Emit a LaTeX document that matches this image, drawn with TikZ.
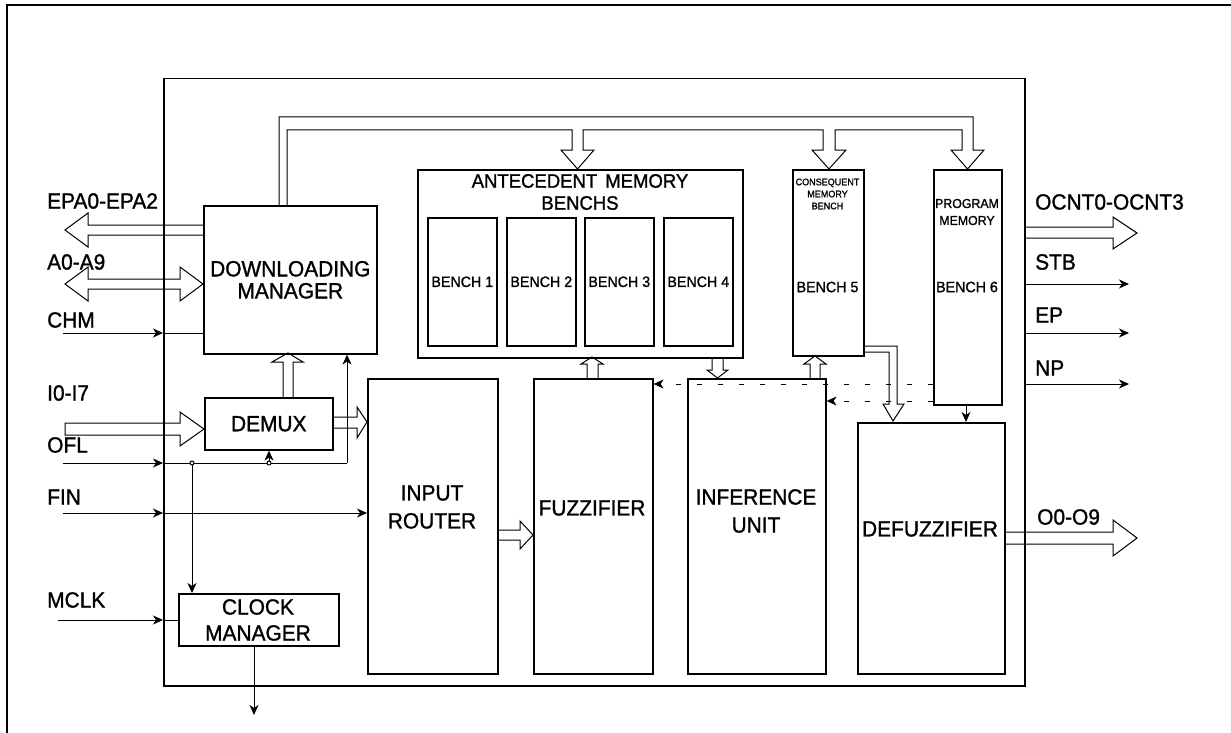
\documentclass[tikz,border=0pt]{standalone}
\usepackage{fontspec}
\setmainfont[FakeStretch=0.95,FakeBold=1.2]{Liberation Sans}
\usetikzlibrary{arrows.meta}
\begin{document}
\begin{tikzpicture}[x=1pt,y=-1pt,
  box/.style={draw,line width=1.6pt,inner sep=0pt,anchor=north west,align=center},
  txt/.style={inner sep=0pt,align=center},
  lbl/.style={anchor=west,inner sep=0pt,font=\fontsize{22}{24}\selectfont},
  big/.style={font=\fontsize{22}{28}\selectfont},
  sig/.style={line width=1pt,-{Stealth[length=10pt,width=9pt,inset=3pt]}},
  wire/.style={line width=1pt},
  pipe/.style={line width=1pt,line join=miter},
  dsig/.style={line width=1pt,dash pattern=on 5pt off 16pt,-{Stealth[length=10pt,width=9pt,inset=3pt]}},
  dot/.style={circle,draw,line width=1pt,inner sep=0pt,minimum size=4pt,fill=white}
]
\useasboundingbox (0,0) rectangle (1231,733);
\fill[white] (0,0) rectangle (1231,733);
% frames
\draw[line width=1.5pt] (7,733) -- (7,5) -- (1231,5);
\node[box,line width=1.5pt,minimum width=861pt,minimum height=607pt] (chip) at (163,78) {};

% boxes
\node[box,big,minimum width=173pt,minimum height=148pt] (dm) at (203,205) {DOWNLOADING\\[-6pt]MANAGER};
\node[box,big,minimum width=128pt,minimum height=52pt] (demux) at (204,397) {DEMUX};
\node[box,minimum width=160pt,minimum height=52pt] (cm) at (178,593) {};
\node[txt,big] (cmt) at (258,620) {CLOCK\\[-2pt]MANAGER};
\node[box,minimum width=325pt,minimum height=188pt] (ant) at (417,169) {};
\node[txt,font=\fontsize{19.5}{22}\selectfont] (antt) at (580,192) {ANTECEDENT\hspace{8pt}MEMORY\\BENCHS};
\foreach \i/\x in {1/427,2/506,3/584,4/663}{
  \node[box,minimum width=69pt,minimum height=128pt,font=\fontsize{15}{17}\selectfont] (b\i) at (\x,217) {BENCH \i};
}
\node[box,minimum width=71pt,minimum height=186pt] (cmb) at (792,169) {};
\node[txt,font=\fontsize{9.5}{12}\selectfont] (cmbt) at (827.5,194) {CONSEQUENT\\MEMORY\\BENCH};
\node[txt,font=\fontsize{15}{17}\selectfont] (cmbb) at (827.5,287) {BENCH 5};
\node[box,minimum width=68pt,minimum height=235pt] (pm) at (933,169) {};
\node[txt,font=\fontsize{13}{17}\selectfont] (pmt) at (967,212) {PROGRAM\\MEMORY};
\node[txt,font=\fontsize{15}{17}\selectfont] (pmb) at (967,287) {BENCH 6};
\node[box,minimum width=130pt,minimum height=295pt] (ir) at (367,378) {};
\node[txt,big] (irt) at (432,507) {INPUT\\ROUTER};
\node[box,minimum width=119pt,minimum height=295pt] (fz) at (533,378) {};
\node[txt,big] (fzt) at (592,508) {FUZZIFIER};
\node[box,minimum width=138pt,minimum height=295pt] (iu) at (687,378) {};
\node[txt,big] (iut) at (756,511) {INFERENCE\\UNIT};
\node[box,minimum width=147pt,minimum height=251pt] (df) at (857,422) {};
\node[txt,big] (dft) at (930,529) {DEFUZZIFIER};

% labels
\node[lbl] (lepa) at (47,201) {EPA0-EPA2};
\node[lbl] (la) at (47,262) {A0-A9};
\node[lbl] (lchm) at (47,320) {CHM};
\node[lbl] (li) at (47,393) {I0-I7};
\node[lbl] (lofl) at (47,445) {OFL};
\node[lbl] (lfin) at (47,497) {FIN};
\node[lbl] (lmclk) at (47,600) {MCLK};
\node[lbl] (locnt) at (1035,202) {OCNT0-OCNT3};
\node[lbl] (lstb) at (1035,262) {STB};
\node[lbl] (lep) at (1035,315) {EP};
\node[lbl] (lnp) at (1035,368) {NP};
\node[lbl] (lo) at (1037,517) {O0-O9};

% fat arrows
\draw[pipe] (dm.west |- 0,225) -- (88,225) -- (88,213) -- (65,230) -- (88,247) -- (88,235) -- (dm.west |- 0,235);
\draw[pipe] (65,284) -- (88,267) -- (88,279) -- (180,279) -- (180,267) -- (dm.west |- 0,284) -- (180,301) -- (180,289) -- (88,289) -- (88,301) -- cycle;
\draw[pipe] (65,423) -- (180,423) -- (180,412) -- (demux.west |- 0,429) -- (180,446) -- (180,435) -- (65,435) -- cycle;
\draw[pipe] (chip.east |- 0,227) -- (1113,227) -- (1113,217) -- (1137,233) -- (1113,249) -- (1113,238) -- (chip.east |- 0,238);
\draw[pipe] (df.east |- 0,532) -- (1113,532) -- (1113,520) -- (1137,538) -- (1113,556) -- (1113,544) -- (df.east |- 0,544);

% hollow internal arrows
\draw[pipe] (283,397) -- (283,362) -- (272,362) -- (288,353) -- (303,362) -- (293,362) -- (293,397);
\draw[pipe] (332,417) -- (357,417) -- (357,407) -- (ir.west |- 0,422) -- (357,438) -- (357,428) -- (332,428);
\draw[pipe] (497,530) -- (520,530) -- (520,521) -- (fz.west |- 0,535) -- (520,549) -- (520,540) -- (497,540);
\draw[pipe] (587,378) -- (587,364) -- (581,364) -- (592,357) -- (603,364) -- (598,364) -- (598,378);
\draw[pipe] (712,357) -- (712,370) -- (707,370) -- (717.5,378) -- (728,370) -- (723,370) -- (723,357);
\draw[pipe] (810,378) -- (810,364) -- (804,364) -- (815,356) -- (826,364) -- (820,364) -- (820,378);
% CMB -> defuzzifier bus
\draw[pipe] (863,346) -- (897,346) -- (897,404) -- (904,404) -- (893,421) -- (883,404) -- (889,404) -- (889,352) -- (863,352);

% top bus
\draw[pipe] (279,205) -- (279,117) -- (973,117) -- (973,150) -- (984,150) -- (967.5,169) -- (951,150) -- (962,150) -- (962,130) -- (835,130) -- (835,150) -- (846,150) -- (829,169) -- (812,150) -- (823,150) -- (823,130) -- (583,130) -- (583,150) -- (594,150) -- (577.5,169) -- (561,150) -- (572,150) -- (572,130) -- (287,130) -- (287,205);

% thin signals
\draw[sig] (63,333) -- (chip.west |- 0,333);
\draw[wire] (chip.west |- 0,333) -- (dm.west |- 0,333);
\draw[sig] (63,463) -- (chip.west |- 0,463);
\draw[wire] (chip.west |- 0,463) -- (347,463);
\draw[sig] (347,463) -- (dm.south -| 347,0);
\draw[sig] (192,463) -- (cm.north -| 192,0);
\draw[sig] (269,463) -- (demux.south -| 269,0);
\node[dot] (j1) at (192,463) {};
\node[dot] (j2) at (269,463) {};
\draw[sig] (63,513) -- (chip.west |- 0,513);
\draw[sig] (chip.west |- 0,513) -- (ir.west |- 0,513);
\draw[sig] (58,620) -- (chip.west |- 0,620);
\draw[wire] (chip.west |- 0,620) -- (cm.west |- 0,620);
\coordinate (cmout) at (254,715);
\draw[sig] (cm.south -| 254,0) -- (cmout);
\draw[sig] (chip.east |- 0,284) -- (1129,284);
\draw[sig] (chip.east |- 0,333) -- (1129,333);
\draw[sig] (chip.east |- 0,384) -- (1129,384);
\draw[sig] (pm.south -| 966,0) -- (df.north -| 966,0);
\draw[dsig] (pm.west |- 0,384) -- (fz.east |- 0,384);
\draw[dsig] (pm.west |- 0,401) -- (iu.east |- 0,401);
\end{tikzpicture}
\end{document}
